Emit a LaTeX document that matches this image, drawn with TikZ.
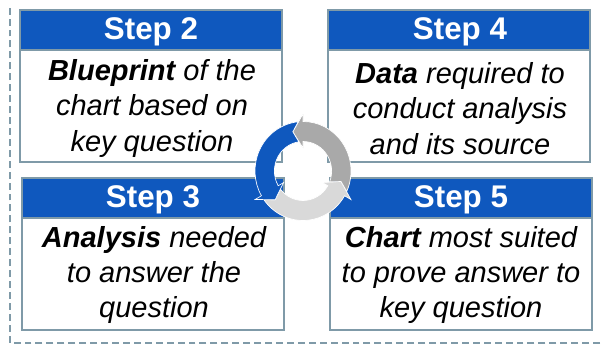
\documentclass[tikz,border=0pt]{standalone}
\usepackage{fontspec}
\setmainfont{Liberation Sans}
\definecolor{stepblue}{HTML}{0F58BE}
\definecolor{edgegrey}{HTML}{7F9AA8}
\definecolor{midgrey}{HTML}{A9A9A9}
\definecolor{lightgrey}{HTML}{D9D9D9}
\tikzset{
  x=0.75pt,y=0.75pt,
  stepbox/.style={draw=edgegrey,line width=1.5pt,fill=white,rectangle,anchor=north west,inner sep=0pt,outer sep=0pt,minimum width=196.5pt,minimum height=114pt},
  stephead/.style={draw=edgegrey,line width=1.5pt,fill=stepblue,rectangle,anchor=north west,inner sep=0pt,outer sep=0pt,minimum width=196.5pt,minimum height=30pt},
  steptitle/.style={text=white,inner sep=0pt,font=\fontsize{23.5}{28}\selectfont\bfseries},
  stepbody/.style={text=black,inner sep=0pt,align=center,font=\fontsize{21.75}{26.4}\selectfont\itshape},
  cyclearrow/.style={draw=white,line width=0.5pt,line join=miter}
}
\newcommand{\cycleshape}{(90:57) -- (105:40.6) -- (90:23) -- (90:29.5) arc[start angle=90,end angle=-21.6,radius=29.5] -- (-15:40.6) -- (-24.3:49.5) arc[start angle=-24.3,end angle=90,radius=49.5] -- cycle}
\begin{document}
\begin{tikzpicture}
\useasboundingbox (0,0) rectangle (603,347);
\fill[white] (0,0) rectangle (603,347);
\coordinate (dashstart) at (10,4);
\coordinate (dashend) at (600,343);
\draw[edgegrey,line width=1.5pt,dash pattern=on 5.2pt off 3pt] (dashend |- dashstart) -- (dashstart) -- (dashstart |- dashend);
% boxes
\node[stepbox] (box2) at (20,337) {};
\node[stepbox] (box4) at (328,337) {};
\node[stepbox] (box3) at (22,169) {};
\node[stepbox] (box5) at (330,169) {};
\node[stephead] (head2) at (box2.north west) {};
\node[stephead] (head4) at (box4.north west) {};
\node[stephead] (head3) at (box3.north west) {};
\node[stephead] (head5) at (box5.north west) {};
\node[steptitle] (title2) at (151,315.5) {Step 2};
\node[steptitle] (title4) at (460,315.5) {Step 4};
\node[steptitle] (title3) at (153,147.5) {Step 3};
\node[steptitle] (title5) at (461,147.5) {Step 5};
\node[stepbody] (body2) at (152,238.5) {\textbf{Blueprint} of the\\chart based on\\key question};
\node[stepbody] (body4) at (460,238.5) {\textbf{Data} required to\\conduct analysis\\and its source};
\node[stepbody] (body3) at (154,72) {\textbf{Analysis} needed\\to answer the\\question};
\node[stepbody] (body5) at (461,72) {\textbf{Chart} most suited\\to prove answer to\\key question};
% cycle arrows
\begin{scope}[shift={(303,176)},xscale=0.97]
  \fill[lightgrey,cyclearrow,rotate=240] \cycleshape;
  \fill[midgrey,cyclearrow] \cycleshape;
  \fill[stepblue,cyclearrow,rotate=120] \cycleshape;
\end{scope}
\end{tikzpicture}
\end{document}
